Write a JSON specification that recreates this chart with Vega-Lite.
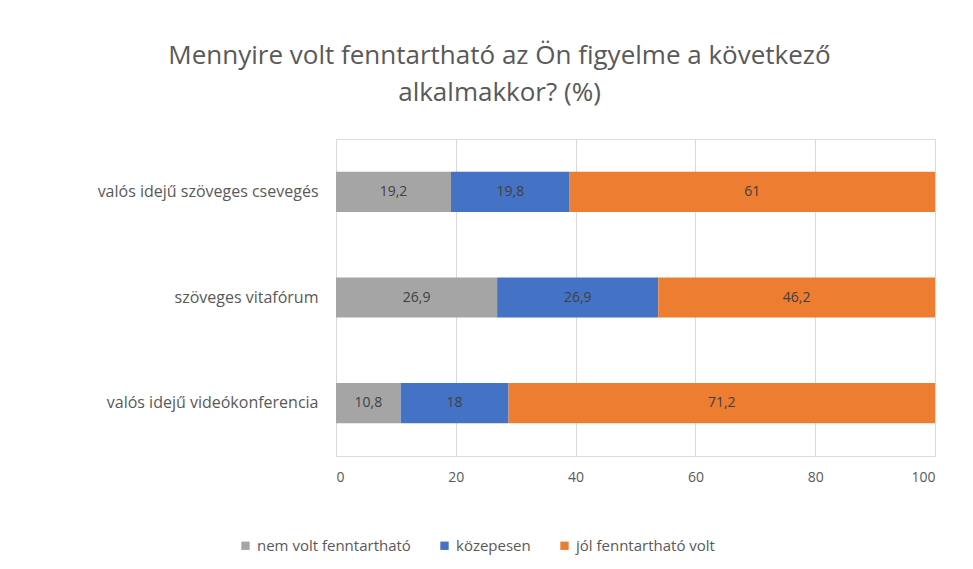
{
  "$schema": "https://vega.github.io/schema/vega-lite/v6.json",
  "autosize": "none",
  "width": 599,
  "height": 317,
  "padding": {"left": 336, "top": 139, "right": 38, "bottom": 113},
  "background": "white",
  "title": {
    "text": ["Mennyire volt fenntartható az Ön figyelme a következő", "alkalmakkor? (%)"],
    "font": "Open Sans",
    "fontSize": 26,
    "fontWeight": "normal",
    "color": "#595959",
    "anchor": "middle",
    "frame": "group",
    "dx": -136,
    "offset": 33,
    "lineHeight": 37
  },
  "data": {
    "values": [
      {"cat": "valós idejű szöveges csevegés", "resp": "nem volt fenntartható", "v": 19.2, "lab": "19,2"},
      {"cat": "valós idejű szöveges csevegés", "resp": "közepesen", "v": 19.8, "lab": "19,8"},
      {"cat": "valós idejű szöveges csevegés", "resp": "jól fenntartható volt", "v": 61, "lab": "61"},
      {"cat": "szöveges vitafórum", "resp": "nem volt fenntartható", "v": 26.9, "lab": "26,9"},
      {"cat": "szöveges vitafórum", "resp": "közepesen", "v": 26.9, "lab": "26,9"},
      {"cat": "szöveges vitafórum", "resp": "jól fenntartható volt", "v": 46.2, "lab": "46,2"},
      {"cat": "valós idejű videókonferencia", "resp": "nem volt fenntartható", "v": 10.8, "lab": "10,8"},
      {"cat": "valós idejű videókonferencia", "resp": "közepesen", "v": 18, "lab": "18"},
      {"cat": "valós idejű videókonferencia", "resp": "jól fenntartható volt", "v": 71.2, "lab": "71,2"}
    ]
  },
  "transform": [
    {"stack": "v", "groupby": ["cat"], "sort": [{"field": "resp", "order": "descending"}], "as": ["x0", "x1"]},
    {"calculate": "(datum.x0 + datum.x1) / 2", "as": "xm"}
  ],
  "encoding": {
    "y": {
      "field": "cat",
      "type": "nominal",
      "sort": null,
      "title": null,
      "scale": {"paddingInner": 0.62, "paddingOuter": 0.31},
      "axis": {
        "ticks": false,
        "domain": false,
        "labelFont": "Open Sans",
        "labelFontSize": 16,
        "labelColor": "#595959",
        "labelPadding": 18,
        "labelLimit": 300
      }
    }
  },
  "layer": [
    {
      "mark": {"type": "bar"},
      "encoding": {
        "x": {
          "field": "x0",
          "type": "quantitative",
          "scale": {"domain": [0, 100]},
          "title": null,
          "axis": {
            "values": [0, 20, 40, 60, 80, 100],
            "grid": true,
            "gridColor": "#d9d9d9",
            "domain": false,
            "ticks": false,
            "labelFont": "Open Sans",
            "labelFontSize": 14,
            "labelColor": "#595959",
            "labelPadding": 14
          }
        },
        "x2": {"field": "x1"},
        "color": {
          "field": "resp",
          "type": "nominal",
          "scale": {
            "domain": ["nem volt fenntartható", "közepesen", "jól fenntartható volt"],
            "range": ["#a5a5a5", "#4472c4", "#ed7d31"]
          },
          "legend": {
            "title": null,
            "orient": "none",
            "direction": "horizontal",
            "legendX": -98,
            "legendY": 399,
            "symbolType": "square",
            "symbolSize": 70,
            "symbolStrokeWidth": 0,
            "labelFont": "Open Sans",
            "labelFontSize": 15,
            "labelColor": "#595959",
            "labelOffset": 4,
            "columnPadding": 26
          }
        }
      }
    },
    {
      "mark": {"type": "text", "font": "Open Sans", "fontSize": 14, "color": "#404040"},
      "encoding": {
        "x": {"field": "xm", "type": "quantitative"},
        "text": {"field": "lab", "type": "nominal"}
      }
    }
  ]
}
